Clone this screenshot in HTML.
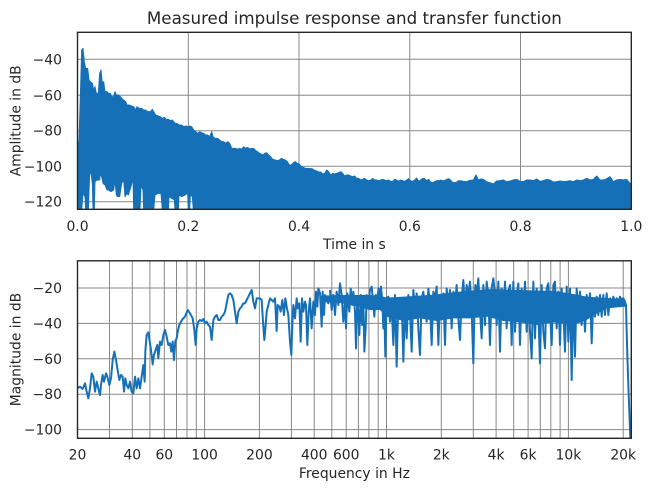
<!DOCTYPE html>
<html>
<head>
<meta charset="utf-8">
<style>
html,body{margin:0;padding:0;background:#fff;}
svg{display:block;}
text{font-family:"DejaVu Sans","Liberation Sans",sans-serif;fill:#262626;}
</style>
</head>
<body>
<svg width="651" height="491" viewBox="0 0 651 491" xmlns="http://www.w3.org/2000/svg">
<defs>
<clipPath id="c1"><rect x="77.5" y="32.3" width="553.8" height="177"/></clipPath>
<clipPath id="c2"><rect x="77.5" y="260.8" width="553.8" height="177.5"/></clipPath>
</defs>
<rect width="651" height="491" fill="#fff"/>

<!-- ===== TOP AXES ===== -->
<g stroke="#888" stroke-width="1" fill="none">
<line x1="188.3" y1="32.3" x2="188.3" y2="209.3"/>
<line x1="299.0" y1="32.3" x2="299.0" y2="209.3"/>
<line x1="409.8" y1="32.3" x2="409.8" y2="209.3"/>
<line x1="520.5" y1="32.3" x2="520.5" y2="209.3"/>
<line x1="77.5" y1="59.3" x2="631.3" y2="59.3"/>
<line x1="77.5" y1="95.3" x2="631.3" y2="95.3"/>
<line x1="77.5" y1="130.7" x2="631.3" y2="130.7"/>
<line x1="77.5" y1="166.3" x2="631.3" y2="166.3"/>
<line x1="77.5" y1="201.7" x2="631.3" y2="201.7"/>
</g>

<g clip-path="url(#c1)" fill="#1670b8" stroke="#1670b8" stroke-width="1" stroke-linejoin="round">
<g transform="translate(75,30) scale(0.333333)">
<path vector-effect="non-scaling-stroke" d="M8,540 L8,350 L12,330 L16,200 L20,60 L24,55 L28,95 L32,115 L38,115 L42,150 L46,155 L52,160 L56,180 L60,170 L64,190 L70,190 L74,130 L78,120 L82,160 L86,155 L90,185 L96,185 L100,190 L106,190 L110,200 L116,200 L120,185 L124,195 L130,195 L136,200 L140,205 L146,210 L152,215 L156,225 L162,225 L170,228 L176,230 L182,240 L186,230 L192,235 L200,235 L206,240 L212,240 L218,245 L226,245 L232,238 L236,245 L242,255 L250,258 L256,260 L262,265 L268,262 L274,268 L280,268 L286,272 L292,270 L296,275 L300,280 L306,280 L312,285 L320,285 L326,290 L332,288 L338,290 L344,288 L350,290 L356,300 L362,305 L368,310 L374,305 L380,308 L386,310 L392,315 L398,315 L404,320 L410,305 L414,320 L420,325 L428,325 L434,330 L440,335 L446,335 L452,340 L458,335 L464,340 L470,355 L476,355 L482,355 L488,358 L494,355 L500,358 L506,350 L512,355 L518,352 L524,357 L530,355 L536,355 L542,362 L548,365 L554,370 L560,375 L560,540 L360,540 L355,540 L352,500 L346,495 L344,540 L340,540 L338,490 L330,495 L320,500 L312,495 L310,540 L300,540 L298,510 L290,505 L282,500 L280,540 L262,540 L258,490 L250,490 L240,495 L236,540 L206,540 L204,480 L198,465 L195,540 L176,540 L174,445 L168,470 L160,495 L156,490 L150,500 L146,450 L140,460 L134,500 L128,500 L124,495 L120,450 L116,480 L108,485 L100,480 L96,480 L90,465 L84,460 L80,440 L76,430 L74,450 L66,450 L60,455 L58,535 L54,535 L52,460 L48,430 L44,430 L40,540 L32,540 L30,500 L24,490 L20,540 Z"/>
</g>
<g transform="translate(260,110) scale(0.333333)">
<path vector-effect="non-scaling-stroke" d="M0,130 L8,135 L14,130 L20,128 L26,135 L32,140 L38,148 L46,150 L52,152 L58,150 L64,145 L70,148 L76,150 L82,155 L88,165 L94,165 L100,158 L106,155 L112,160 L118,162 L124,170 L130,172 L136,175 L142,175 L150,176 L156,176 L162,180 L170,183 L176,186 L182,186 L188,192 L194,190 L200,180 L206,185 L212,195 L218,190 L224,192 L230,190 L236,188 L242,185 L248,190 L254,198 L260,195 L266,195 L272,198 L278,200 L284,198 L290,205 L296,205 L302,210 L308,208 L314,205 L320,210 L326,212 L332,210 L338,205 L344,210 L350,210 L356,212 L362,210 L368,208 L374,210 L380,212 L386,210 L392,214 L398,214 L404,208 L410,210 L416,214 L422,210 L428,212 L434,214 L440,210 L446,206 L452,212 L458,214 L464,210 L470,204 L476,214 L482,210 L488,205 L494,206 L500,212 L506,208 L512,216 L518,218 L524,215 L530,212 L536,212 L542,210 L548,212 L554,212 L560,208 L566,206 L572,210 L578,218 L584,218 L590,216 L596,212 L602,214 L602,300 L0,300 Z"/>
</g>
<g transform="translate(320,0) scale(0.333333)">
<path vector-effect="non-scaling-stroke" d="M420,542 L430,544 L440,545 L450,541 L460,540 L468,525 L475,540 L483,537 L490,538 L500,545 L510,548 L520,552 L530,543 L540,542 L550,540 L560,545 L570,543 L580,540 L590,538 L600,544 L610,545 L620,540 L630,540 L640,542 L650,537 L660,544 L670,542 L680,538 L690,540 L700,546 L710,545 L720,543 L730,545 L740,544 L750,542 L760,545 L770,540 L780,542 L790,540 L800,535 L810,540 L820,538 L830,528 L840,540 L850,540 L860,536 L870,530 L880,545 L890,540 L900,538 L910,540 L920,538 L930,550 L936,552 L936,632 L420,632 Z"/>
</g>
</g>

<rect x="77.5" y="32.3" width="553.8" height="177" fill="none" stroke="#262626" stroke-width="1.4"/>

<text x="354.4" y="24" font-size="16.7" text-anchor="middle">Measured impulse response and transfer function</text>
<g font-size="13.9" text-anchor="end">
<text x="62" y="64.3">−40</text>
<text x="62" y="100.3">−60</text>
<text x="62" y="135.7">−80</text>
<text x="62" y="171.3">−100</text>
<text x="62" y="206.7">−120</text>
</g>
<g font-size="13.9" text-anchor="middle">
<text x="77.5" y="231">0.0</text>
<text x="188.3" y="231">0.2</text>
<text x="299.0" y="231">0.4</text>
<text x="409.8" y="231">0.6</text>
<text x="520.5" y="231">0.8</text>
<text x="631.3" y="231">1.0</text>
<text x="354.4" y="248.8">Time in s</text>
</g>
<text font-size="13.9" text-anchor="middle" transform="translate(20.5,120.8) rotate(-90)">Amplitude in dB</text>

<!-- ===== BOTTOM AXES ===== -->
<g stroke="#888" stroke-width="1" fill="none">
<line x1="109.5" y1="260.8" x2="109.5" y2="438.3"/>
<line x1="132.3" y1="260.8" x2="132.3" y2="438.3"/>
<line x1="149.9" y1="260.8" x2="149.9" y2="438.3"/>
<line x1="164.3" y1="260.8" x2="164.3" y2="438.3"/>
<line x1="176.5" y1="260.8" x2="176.5" y2="438.3"/>
<line x1="187.0" y1="260.8" x2="187.0" y2="438.3"/>
<line x1="196.3" y1="260.8" x2="196.3" y2="438.3"/>
<line x1="204.6" y1="260.8" x2="204.6" y2="438.3"/>
<line x1="259.4" y1="260.8" x2="259.4" y2="438.3"/>
<line x1="291.4" y1="260.8" x2="291.4" y2="438.3"/>
<line x1="314.2" y1="260.8" x2="314.2" y2="438.3"/>
<line x1="331.8" y1="260.8" x2="331.8" y2="438.3"/>
<line x1="346.2" y1="260.8" x2="346.2" y2="438.3"/>
<line x1="358.4" y1="260.8" x2="358.4" y2="438.3"/>
<line x1="368.9" y1="260.8" x2="368.9" y2="438.3"/>
<line x1="378.2" y1="260.8" x2="378.2" y2="438.3"/>
<line x1="386.5" y1="260.8" x2="386.5" y2="438.3"/>
<line x1="441.3" y1="260.8" x2="441.3" y2="438.3"/>
<line x1="473.3" y1="260.8" x2="473.3" y2="438.3"/>
<line x1="496.1" y1="260.8" x2="496.1" y2="438.3"/>
<line x1="513.7" y1="260.8" x2="513.7" y2="438.3"/>
<line x1="528.1" y1="260.8" x2="528.1" y2="438.3"/>
<line x1="540.3" y1="260.8" x2="540.3" y2="438.3"/>
<line x1="550.8" y1="260.8" x2="550.8" y2="438.3"/>
<line x1="560.1" y1="260.8" x2="560.1" y2="438.3"/>
<line x1="568.4" y1="260.8" x2="568.4" y2="438.3"/>
<line x1="623.2" y1="260.8" x2="623.2" y2="438.3"/>
<line x1="77.5" y1="288.0" x2="631.3" y2="288.0"/>
<line x1="77.5" y1="323.4" x2="631.3" y2="323.4"/>
<line x1="77.5" y1="358.8" x2="631.3" y2="358.8"/>
<line x1="77.5" y1="394.2" x2="631.3" y2="394.2"/>
<line x1="77.5" y1="429.6" x2="631.3" y2="429.6"/>
</g>

<g clip-path="url(#c2)">
<g transform="translate(320,245) scale(0.333333)" fill="#1670b8" stroke="none">
<path d="M0,152 L60,150 L150,150 L180,152 L200,158 L300,152 L350,148 L420,140 L470,135 L520,132 L600,135 L700,138 L750,145 L800,155 L900,162 L918,168 L918,185 L860,190 L820,212 L800,225 L760,240 L700,232 L650,240 L600,232 L550,228 L500,215 L450,220 L400,220 L350,228 L300,220 L250,228 L200,215 L180,195 L150,195 L100,182 L50,172 L0,172 Z"/>
</g>
<g fill="none" stroke="#1670b8" stroke-width="2" stroke-linejoin="round">
<g transform="translate(0,245) scale(0.333333)">
<path vector-effect="non-scaling-stroke" d="M232,430 L240,425 L248,432 L255,415 L260,440 L265,460 L270,430 L275,385 L280,395 L285,440 L290,410 L295,430 L300,450 L303,420 L308,390 L312,410 L318,385 L322,395 L328,420 L333,400 L338,345 L343,320 L348,345 L352,370 L358,405 L363,390 L368,395 L372,440 L376,400 L380,420 L385,430 L390,410 L395,440 L400,445 L405,395 L410,430 L415,400 L420,430 L425,395 L430,360 L434,410 L436,318 L440,270 L445,262 L450,295 L455,330 L458,358 L462,330 L467,315 L472,300 L475,340 L480,290 L485,300 L490,270 L495,255 L500,275 L505,300 L510,295 L514,320 L518,290 L522,345 L526,288 L530,280 L534,255 L538,240 L543,230 L548,222 L555,215 L563,195 L570,205 L578,220 L583,255 L587,300 L590,250 L595,230 L600,225 L605,228 L610,222 L615,235 L620,230 L625,240 L630,245 L635,285 L640,225 L645,215 L650,210 L655,225 L660,225 L665,215 L670,210 L675,200 L680,175 L685,150 L690,145 L695,150 L700,165 L705,200 L710,235 L715,200 L720,190 L725,185 L730,175 L735,175 L740,165 L745,155 L750,145 L755,135 L760,170 L765,190 L770,160 L775,160 L780,160 L785,165 L790,245 L793,285 L797,240 L800,200 L805,180 L810,160 L815,165 L820,170 L825,160 L830,258 L833,180 L838,185 L842,200 L847,165 L852,210 L856,160 L860,185 L865,210 L870,290 L874,330 L877,240 L880,180 L885,220 L890,160 L893,190 L898,175 L902,290 L906,160 L910,200 L915,170 L918,180 L922,300 L926,200 L930,160 L935,250 L940,170 L945,210 L948,140 L952,185 L955,130 L960,145 L965,245 L968,140 L972,210 L975,150 L980,165 L985,175 L990,155"/>
</g>
<g transform="translate(320,245) scale(0.333333)">
<path vector-effect="non-scaling-stroke" d="M30,135 L35,195 L40,150 L45,210 L50,140 L55,180 L60,115 L65,150 L70,230 L75,170 L78,250 L82,145 L88,200 L92,130 L97,180 L100,140 L105,200 L108,310 L112,160 L116,220 L118,270 L122,150 L126,240 L130,160 L133,320 L137,250 L140,150 L145,180 L150,135 L155,125 L160,180 L163,215 L167,150 L172,160 L176,130 L180,155 L183,125 L187,170 L190,250 L193,200 L196,335 L200,160 L205,155 L210,230 L214,160 L220,300 L225,150 L230,365 L235,160 L240,200 L245,160 L250,350 L255,175 L260,280 L265,150 L270,200 L275,320 L280,135 L285,190 L290,145 L295,250 L300,330 L305,160 L310,140 L315,200 L320,230 L325,130 L330,180 L335,300 L340,140 L345,160 L350,125 L355,300 L360,170 L365,200 L370,145 L375,300 L380,130 L385,180 L390,135 L395,250 L400,140 L405,180 L410,120 L415,220 L420,285 L425,160 L430,105 L435,190 L440,120 L445,150 L450,110 L455,200 L460,355 L463,210 L466,120 L470,150 L475,100 L480,200 L485,280 L490,120 L495,240 L500,110 L505,150 L510,300 L515,130 L520,100 L525,150 L530,240 L535,110 L540,320 L545,130 L550,215 L555,110 L560,250 L565,140 L570,120 L575,300 L580,110 L585,260 L590,150 L595,115 L600,300 L605,130 L610,200 L615,110 L620,260 L625,140 L630,260 L635,340 L640,110 L645,280 L650,130 L655,200 L660,355 L665,120 L670,260 L675,310 L680,130 L685,115 L690,200 L695,300 L700,120 L705,110 L710,250 L715,140 L720,300 L725,130 L730,200 L735,320 L740,125 L745,290 L750,130 L755,405 L760,150 L765,335 L770,130 L775,200 L780,140 L785,240 L790,160 L795,260 L800,150 L805,200 L810,145 L815,295 L820,160 L825,215 L830,155 L835,210 L840,150 L845,215 L850,150 L855,210 L860,145 L865,210 L870,160 L875,185 L880,155 L885,175 L890,160 L895,170 L900,155 L905,165 L910,160 L915,170 L918,180 L920,260 L922,330 L925,420 L928,500 L931,580"/>
</g>
</g>
</g>

<rect x="77.5" y="260.8" width="553.8" height="177.5" fill="none" stroke="#262626" stroke-width="1.4"/>

<g font-size="13.9" text-anchor="end">
<text x="62" y="293.0">−20</text>
<text x="62" y="328.4">−40</text>
<text x="62" y="363.8">−60</text>
<text x="62" y="399.2">−80</text>
<text x="62" y="434.6">−100</text>
</g>
<g font-size="13.9" text-anchor="middle">
<text x="77.5" y="459.3">20</text>
<text x="132.3" y="459.3">40</text>
<text x="164.3" y="459.3">60</text>
<text x="204.6" y="459.3">100</text>
<text x="259.4" y="459.3">200</text>
<text x="314.2" y="459.3">400</text>
<text x="346.2" y="459.3">600</text>
<text x="386.5" y="459.3">1k</text>
<text x="441.3" y="459.3">2k</text>
<text x="496.1" y="459.3">4k</text>
<text x="528.1" y="459.3">6k</text>
<text x="568.4" y="459.3">10k</text>
<text x="623.2" y="459.3">20k</text>
<text x="354.4" y="478">Frequency in Hz</text>
</g>
<text font-size="13.9" text-anchor="middle" transform="translate(20.5,349.5) rotate(-90)">Magnitude in dB</text>
</svg>
</body>
</html>
